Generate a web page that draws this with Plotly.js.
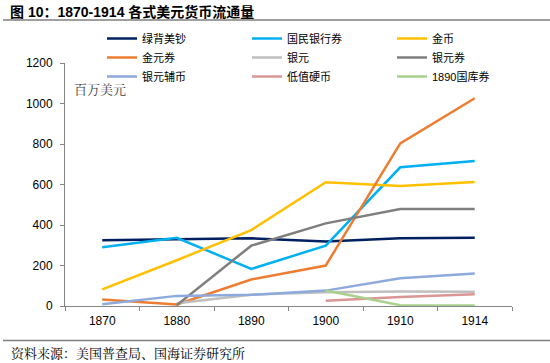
<!DOCTYPE html>
<html>
<head>
<meta charset="utf-8">
<script src="https://cdn.plot.ly/plotly-3.0.1.min.js"></script>
<style>html,body{margin:0;padding:0;background:#fff;}#chart{width:550px;height:363px;}</style>
</head>
<body>
<div id="chart"></div>
<script>
const years = ['1870', '1880', '1890', '1900', '1910', '1914'];
const seriesNames = ['绿背美钞', '国民银行券', '金币', '金元券', '银元', '银元券', '银元辅币', '低值硬币', '1890国库券'];
const greenbacks = [325, 328, 334, 318, 335, 337];
const nationalBankNotes = [290, 337, 183, 298, 685, 716];
const goldCoin = [82, 226, 375, 611, 593, 612];
const goldCertificates = [32, 8, 131, 200, 803, 1026];
const silverDollars = [null, 14, 56, 68, 71, 70];
const silverCertificates = [null, 4, 298, 408, 479, 479];
const subsidiarySilver = [9, 50, 55, 76, 137, 160];
const minorCoins = [null, null, null, 26, 44, 58];
const treasuryNotes1890 = [null, null, null, 77, 4, 2];
const colors = ['#002060', '#00B0F0', '#FFC000', '#ED7D31', '#BFBFBF', '#7F7F7F', '#8EA9DB', '#D99694', '#A9D18E'];

const allValues = [greenbacks, nationalBankNotes, goldCoin, goldCertificates, silverDollars, silverCertificates, subsidiarySilver, minorCoins, treasuryNotes1890];

const FONT = 'Arial, "Liberation Sans", "Noto Sans CJK SC", sans-serif';
const SERIF = '"Noto Serif CJK SC", "Noto Sans CJK SC", serif';

const traces = allValues.map((vals, i) => ({
  type: 'scatter',
  mode: 'lines',
  x: years,
  y: vals,
  name: seriesNames[i],
  line: {color: colors[i], width: 2.5},
  connectgaps: false,
  hoverinfo: 'skip'
}));

// plot area: x 65..512, y 63..306
const L = 65, R = 512, T = 63, B = 306;
const PW = R - L, PH = B - T;
const px = x => (x - L) / PW;
const py = y => (B - y) / PH;

const layout = {
  width: 550,
  height: 363,
  margin: {l: L, r: 550 - R, t: T, b: 363 - B, pad: 0},
  paper_bgcolor: '#ffffff',
  plot_bgcolor: '#ffffff',
  font: {family: FONT, size: 11, color: '#000000'},
  showlegend: true,
  legend: {
    orientation: 'h',
    x: px(102), xanchor: 'left',
    y: py(24), yanchor: 'top',
    entrywidth: 100, entrywidthmode: 'pixels',
    font: {family: FONT, size: 11, color: '#000000'},
    bgcolor: 'rgba(0,0,0,0)',
    tracegroupgap: 0,
    itemwidth: 30
  },
  xaxis: {
    type: 'category',
    range: [-0.5, 5.5],
    showgrid: false,
    zeroline: false,
    showline: true,
    linecolor: '#868686',
    linewidth: 1,
    ticks: 'outside',
    tickson: 'boundaries',
    ticklen: 4,
    tickcolor: '#868686',
    tickfont: {family: FONT, size: 12, color: '#000000'},
    ticklabelstandoff: 4,
    fixedrange: true
  },
  yaxis: {
    range: [0, 1200],
    tickvals: [0, 200, 400, 600, 800, 1000, 1200],
    ticktext: ['0', '200', '400', '600', '800', '1000', '1200'],
    showgrid: false,
    zeroline: false,
    showline: true,
    linecolor: '#868686',
    linewidth: 1,
    ticks: 'outside',
    ticklen: 4,
    tickcolor: '#868686',
    tickfont: {family: FONT, size: 12, color: '#000000'},
    ticklabelstandoff: 5,
    fixedrange: true
  },
  shapes: [
    {type: 'line', xref: 'paper', yref: 'paper', x0: px(3), x1: px(550), y0: py(20), y1: py(20), line: {color: '#7F7F7F', width: 1.5}},
    {type: 'line', xref: 'paper', yref: 'paper', x0: px(3), x1: px(550), y0: py(340.5), y1: py(340.5), line: {color: '#7F7F7F', width: 1.5}}
  ],
  annotations: [
    {xref: 'paper', yref: 'paper', x: px(8), y: py(12), xanchor: 'left', yanchor: 'middle', showarrow: false,
     text: '<b>图 10：1870-1914 各式美元货币流通量</b>', font: {family: FONT, size: 14, color: '#000000'}},
    {xref: 'paper', yref: 'paper', x: px(72), y: py(88), xanchor: 'left', yanchor: 'middle', showarrow: false,
     text: '百万美元', font: {family: SERIF, size: 13, color: '#404040'}},
    {xref: 'paper', yref: 'paper', x: px(9), y: py(352), xanchor: 'left', yanchor: 'middle', showarrow: false,
     text: '资料来源：美国普查局、国海证券研究所', font: {family: SERIF, size: 13, color: '#000000'}}
  ]
};

Plotly.newPlot('chart', traces, layout, {staticPlot: true, displayModeBar: false});
</script>
</body>
</html>
